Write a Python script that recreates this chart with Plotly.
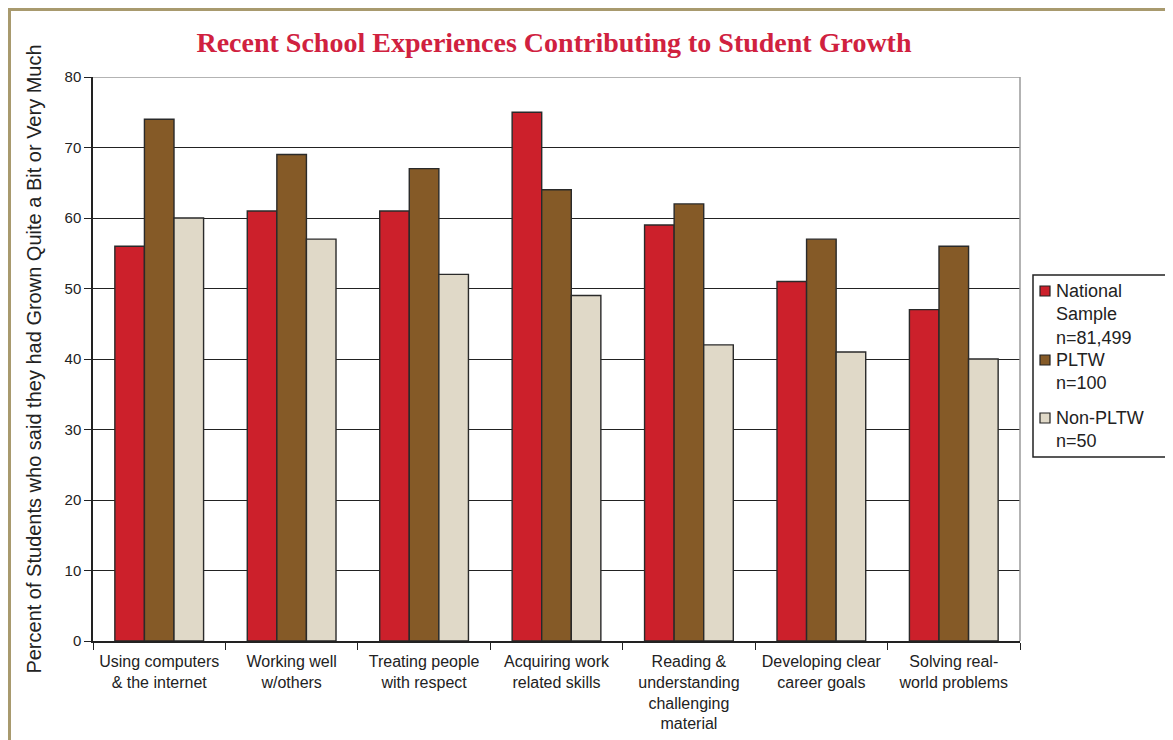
import plotly.graph_objects as go

categories = ["Using computers<br>& the internet", "Working well<br>w/others", "Treating people<br>with respect",
              "Acquiring work<br>related skills", "Reading &<br>understanding<br>challenging<br>material",
              "Developing clear<br>career goals", "Solving real-<br>world problems"]
national = [56, 61, 61, 75, 59, 51, 47]
pltw = [74, 69, 67, 64, 62, 57, 56]
non_pltw = [60, 57, 52, 49, 42, 41, 40]
series_names = ["National<br>Sample<br>n=81,499", "PLTW<br>n=100", "Non-PLTW<br>n=50"]
colors = ["#CC202B", "#855A27", "#E0D9C8"]

OFF = 8  # page body margin offset
W, H = 1173 - OFF, 740 - OFF
# plot area in reference page pixels
L, R, T, B = 93, 1020, 77, 641

fig = go.Figure()
for name, vals, c in zip(series_names, [national, pltw, non_pltw], colors):
    fig.add_trace(go.Bar(x=categories, y=vals, name=name, showlegend=False,
                         marker=dict(color=c, line=dict(color="#2a2a2a", width=1.4))))

def px_x(x):
    return (x - L) / (R - L)

def px_y(y):
    return (B - y) / (B - T)

shapes = [
    dict(type="line", xref="paper", yref="paper", x0=px_x(8), x1=px_x(1180), y0=px_y(9.5), y1=px_y(9.5),
         line=dict(color="#A89A6E", width=3)),
    dict(type="line", xref="paper", yref="paper", x0=px_x(9.5), x1=px_x(9.5), y0=px_y(8), y1=px_y(760),
         line=dict(color="#A89A6E", width=3)),
    dict(type="line", xref="paper", yref="y", x0=0, x1=1, y0=80, y1=80, line=dict(color="#9a9a9a", width=1.5), layer="above"),
    dict(type="line", xref="paper", yref="paper", x0=1, x1=1, y0=0, y1=1, line=dict(color="#9a9a9a", width=1.5), layer="above"),
    # legend box
    dict(type="rect", xref="paper", yref="paper", x0=px_x(1033), x1=px_x(1166), y0=px_y(457), y1=px_y(275),
         line=dict(color="#222", width=1.5), fillcolor="white"),
]

annotations = []
item_tops = [281, 350, 408]
for name, c, top in zip(series_names, colors, item_tops):
    shapes.append(dict(type="rect", xref="paper", yref="paper", x0=px_x(1040), x1=px_x(1050),
                       y0=px_y(top + 15), y1=px_y(top + 5), line=dict(color="#222", width=1.2), fillcolor=c))
    annotations.append(dict(xref="paper", yref="paper", x=px_x(1054), y=px_y(top - 2), xanchor="left", yanchor="top",
                            align="left", text=name, showarrow=False, font=dict(size=18, color="#222")))

fig.update_layout(
    width=W, height=H,
    margin=dict(l=L - OFF, r=W - (R - OFF), t=T - OFF, b=H - (B - OFF)),
    paper_bgcolor="white", plot_bgcolor="white",
    barmode="group", bargap=0.33, bargroupgap=0,
    title=dict(text="<b>Recent School Experiences Contributing to Student Growth</b>",
               x=(554 - OFF) / W, xanchor="center", y=1 - (42 - OFF) / H, yanchor="middle",
               font=dict(family="Liberation Serif", size=28, color="#D0213F")),
    font=dict(family="Liberation Sans, Arial", size=15, color="#222"),
    xaxis=dict(showline=True, linecolor="#222", linewidth=1.5, ticks="outside", tickson="boundaries",
               ticklen=7, tickcolor="#222", tickfont=dict(size=16, color="#222"), showgrid=False,
               ticklabelstandoff=5, automargin=False),
    yaxis=dict(range=[0, 80], dtick=10, showline=True, linecolor="#222", linewidth=1.5, ticks="outside",
               ticklen=7, tickcolor="#222", showgrid=True, gridcolor="#222", gridwidth=1.3,
               tickfont=dict(size=15, color="#222"), zeroline=False, automargin=False,
               title=dict(text="Percent of Students who said they had Grown Quite a Bit or Very Much",
                          font=dict(size=20, color="#222"), standoff=18)),
    shapes=shapes,
    annotations=annotations,
)

fig.write_html("out.html")
